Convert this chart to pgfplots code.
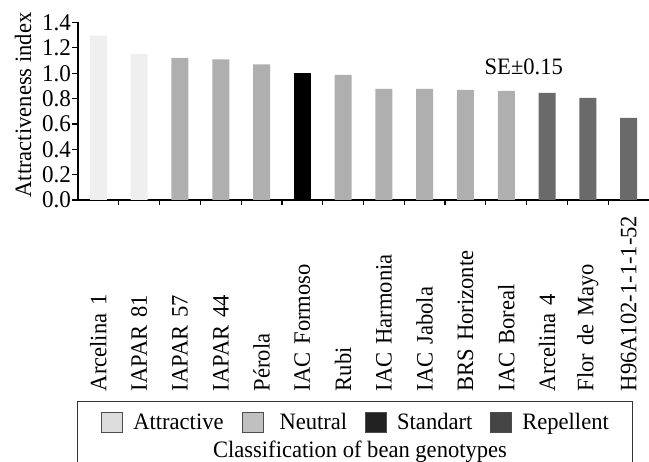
\documentclass[border=0pt]{standalone}
\usepackage{fontspec}
\setmainfont{Liberation Serif}[FakeStretch=0.96]
\usepackage{pgfplots}
\pgfplotsset{compat=1.18}

\definecolor{attrbar}{HTML}{EFEFEF}
\definecolor{neutbar}{HTML}{AFAFAF}
\definecolor{reptbar}{HTML}{6A6A6A}
\definecolor{attrleg}{HTML}{DCDCDC}
\definecolor{neutleg}{HTML}{C0C0C0}
\definecolor{stdleg}{HTML}{222222}
\definecolor{repleg}{HTML}{454545}

\newcommand\fs{\fontsize{23.5bp}{27bp}\selectfont}
\newcommand\fsy{\fontsize{24bp}{28bp}\selectfont}

\begin{document}
\begin{tikzpicture}[x=1bp,y=1bp]
\useasboundingbox (0,0) rectangle (649,462);
\begin{axis}[
  at={(78bp,262bp)}, anchor=south west,
  scale only axis, width=571bp, height=177.5bp,
  xmin=-0.5, xmax=13.5, ymin=0, ymax=1.4,
  axis x line=bottom, axis y line=left,
  axis line style={-, line width=1.2bp},
  tick style={black, line width=1.2bp},
  tick align=outside,
  xtick={0,...,13},
  xticklabels={Arcelina 1, IAPAR 81, IAPAR 57, IAPAR 44, Pérola, IAC Formoso, Rubi,
    IAC Harmonia, IAC Jabola, BRS Horizonte, IAC Boreal, Arcelina 4, Flor de Mayo,
    H96A102-1-1-1-52},
  major x tick style={draw=none},
  minor x tick num=1,
  minor tick length=5bp,
  major tick length=6bp,
  ytick={0,0.2,0.4,0.6,0.8,1.0,1.2,1.4},
  /pgf/number format/assume math mode=true,
  ticklabel style={font=\fs},
  yticklabel style={/pgf/number format/fixed, /pgf/number format/fixed zerofill,
    /pgf/number format/precision=1, inner sep=1bp, font=\fsy},
  xticklabel style={rotate=90, anchor=east, text width=180bp, align=left, inner sep=0pt},
  xticklabel shift=5bp,
  ylabel={Attractiveness index},
  ylabel style={font=\fs, at={(axis description cs:-0.096,0.535)}, anchor=center},
  ybar, bar width=17bp,
  every axis plot/.append style={bar shift=0pt, draw=none},
  legend columns=4,
  legend style={at={(axis description cs:0.487,-1.251)}, anchor=center, draw=none,
    fill=none, font=\fs,
    /tikz/every odd column/.append style={column sep=8bp},
    /tikz/every even column/.append style={column sep=16bp}},
  legend image code/.code={\draw[#1, line width=1bp] (0bp,-10bp) rectangle (21bp,10bp);},
]
\addplot[fill=attrbar, forget plot] coordinates {(0,1.297) (1,1.152)};
\addplot[fill=neutbar, forget plot] coordinates {(2,1.12) (3,1.11) (4,1.07) (6,0.986)
  (7,0.876) (8,0.876) (9,0.868) (10,0.86)};
\addplot[fill=black, forget plot] coordinates {(5,1.0)};
\addplot[fill=reptbar, forget plot] coordinates {(11,0.845) (12,0.805) (13,0.647)};
\node[font=\fs] at (axis cs:10.43,1.05) {SE±0.15};
\addlegendimage{fill=attrleg, draw=black!70}
\addlegendentry{Attractive}
\addlegendimage{fill=neutleg, draw=black!70}
\addlegendentry{\hspace{6bp}Neutral}
\addlegendimage{fill=stdleg, draw=black!70}
\addlegendentry{Standart\hspace{15bp}}
\addlegendimage{fill=repleg, draw=black!70}
\addlegendentry{Repellent}
\end{axis}
\draw[line width=1bp, black!80] (77,60) rectangle (632,-10);
\node[font=\fs] at (360,10) {Classification of bean genotypes};
\end{tikzpicture}
\end{document}
